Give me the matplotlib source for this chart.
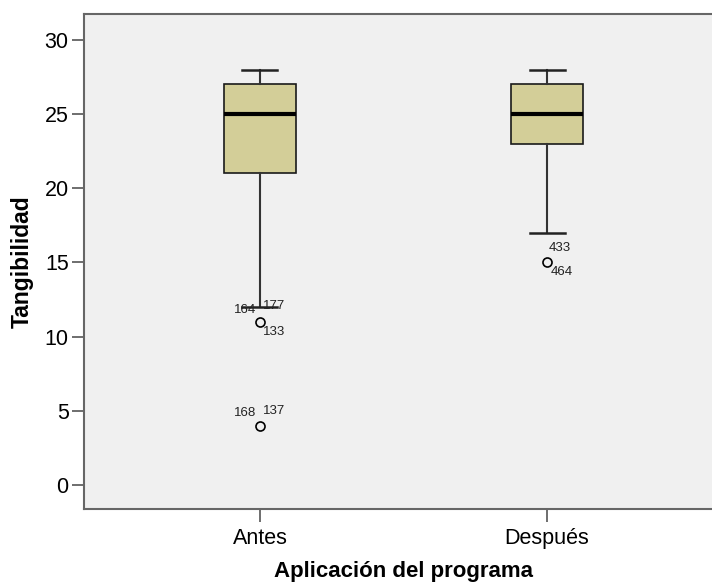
import matplotlib
matplotlib.use("Agg")
import matplotlib.pyplot as plt

plt.rcParams['font.family'] = ['Liberation Sans', 'DejaVu Sans']

groups = ["Antes", "Después"]
whislo = [12, 17]
q1 = [21, 23]
med = [25, 25]
q3 = [27, 27]
whishi = [28, 28]
fliers = [[11, 4], [15]]

# outlier case numbers: (group index, value, text, dx, dy, ha)
case_labels = [
    (0, 12, "164", -4, -3, "right"),
    (0, 12, "177", 3, 1, "left"),
    (0, 11, "133", 3, -10, "left"),
    (0, 4, "168", -4, 13, "right"),
    (0, 4, "137", 3, 15, "left"),
    (1, 15, "433", 2, 14, "left"),
    (1, 15, "464", 4, -10, "left"),
]

stats = []
for i, g in enumerate(groups):
    stats.append({"label": g, "whislo": whislo[i], "q1": q1[i], "med": med[i],
                  "q3": q3[i], "whishi": whishi[i], "fliers": fliers[i]})

fig = plt.figure(figsize=(7.12, 5.83), dpi=100)
fig.patch.set_facecolor("white")
ax = fig.add_axes([84 / 712, 74 / 583, 639 / 712, 495 / 583])
ax.set_facecolor("#F0F0F0")

pos = [1, 2]
ax.bxp(stats, positions=pos, widths=0.254, capwidths=0.122, patch_artist=True,
       boxprops=dict(facecolor="#D3CE98", edgecolor="#1a1a1a", linewidth=1.2),
       medianprops=dict(color="black", linewidth=3),
       whiskerprops=dict(color="#333333", linewidth=1.5),
       capprops=dict(color="#222222", linewidth=1.8),
       flierprops=dict(marker="o", markersize=6.5, markerfacecolor="none",
                       markeredgecolor="black", markeredgewidth=1.2))

for gi, val, txt, dx, dy, ha in case_labels:
    ax.annotate(txt, (pos[gi], val), xytext=(dx, dy), textcoords="offset pixels",
                ha=ha, va="center", fontsize=9.5, color="#222222")

ax.set_xlim(0.387, 2.613)
ax.set_ylim(-1.62, 31.75)
ax.set_yticks(range(0, 31, 5))
ax.set_xticks(pos)
ax.set_xticklabels(groups)
ax.tick_params(axis="both", labelsize=15.5, length=9, width=1.2, color="#555555", pad=2)
ax.tick_params(axis="x", pad=5)
ax.set_ylabel("Tangibilidad", fontsize=16.5, fontweight="bold", labelpad=8)
ax.set_xlabel("Aplicación del programa", fontsize=16, fontweight="bold", labelpad=8)
for s in ax.spines.values():
    s.set_color("#666666")
    s.set_linewidth(1.5)

plt.savefig("out.png", dpi=100)
